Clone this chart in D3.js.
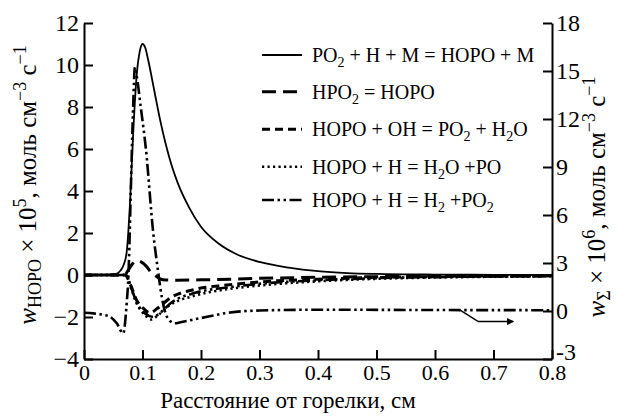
<!DOCTYPE html>
<html>
<head>
<meta charset="utf-8">
<script src="https://cdn.jsdelivr.net/npm/d3@7"></script>
<style>
  body { margin: 0; background: #fff; }
  svg text { font-family: "Liberation Serif", "Times New Roman", serif; fill: #000; }
</style>
</head>
<body>
<div class="chart"></div>
<script>
// ticks
var xTicks = [0, 0.1, 0.2, 0.3, 0.4, 0.5, 0.6, 0.7, 0.8];
var leftTicks = [-4, -2, 0, 2, 4, 6, 8, 10, 12];
var rightTicks = [-3, 0, 3, 6, 9, 12, 15, 18];

// PO2 + H + M = HOPO + M  (left axis)
var rateRecomb = [[0,0],[0.04,0],[0.055,0.05],[0.062,0.2],[0.068,0.5],[0.073,1.1],[0.0786,3.4],
  [0.084,6.7],[0.09,9.5],[0.095,10.6],[0.1,11.0],[0.105,10.8],[0.11,10.2],[0.12,8.8],[0.13,7.4],
  [0.14,6.2],[0.15,5.2],[0.16,4.4],[0.18,3.2],[0.2,2.3],[0.23,1.5],[0.26,1.0],[0.3,0.62],
  [0.35,0.35],[0.4,0.18],[0.45,0.09],[0.5,0.05],[0.6,0.02],[0.7,0.01],[0.8,0]];
// HPO2 = HOPO
var rateIsom = [[0,0],[0.06,0],[0.07,0.02],[0.076,0.25],[0.082,0.5],[0.088,0.66],[0.093,0.68],
  [0.1,0.58],[0.107,0.4],[0.114,0.15],[0.121,0],[0.13,-0.18],[0.14,-0.24],[0.16,-0.25],
  [0.2,-0.23],[0.25,-0.2],[0.3,-0.16],[0.4,-0.11],[0.5,-0.08],[0.6,-0.06],[0.8,-0.04]];
// HOPO + OH = PO2 + H2O
var rateOH = [[0,0],[0.06,0],[0.07,0],[0.08,-0.5],[0.09,-1.2],[0.1,-1.55],[0.113,-1.8],
  [0.125,-1.6],[0.147,-1.1],[0.187,-0.7],[0.244,-0.48],[0.3,-0.33],[0.4,-0.2],[0.5,-0.12],
  [0.6,-0.08],[0.8,-0.04]];
// HOPO + H = H2O + PO
var rateH_H2O = [[0,0],[0.06,0],[0.072,0],[0.08,-0.6],[0.09,-1.35],[0.104,-1.9],[0.115,-2.12],
  [0.125,-1.95],[0.147,-1.43],[0.187,-1.0],[0.244,-0.68],[0.3,-0.5],[0.4,-0.3],[0.5,-0.18],
  [0.6,-0.12],[0.8,-0.06]];
// HOPO + H = H2 + PO2
var rateH_H2 = [[0,0],[0.06,0],[0.072,0],[0.08,-0.55],[0.09,-1.3],[0.105,-1.85],[0.118,-2.0],
  [0.13,-1.8],[0.15,-1.3],[0.19,-0.85],[0.25,-0.58],[0.3,-0.42],[0.4,-0.25],[0.5,-0.15],
  [0.6,-0.1],[0.8,-0.05]];
// total rate w_sum (right axis)
var rateSum = [[0,-0.11],[0.016,-0.15],[0.03,-0.22],[0.044,-0.35],[0.056,-0.77],[0.067,-1.4],
  [0.073,0.5],[0.076,2.25],[0.08,7.5],[0.084,12.75],[0.087,15.24],[0.09,14.72],[0.097,12.75],
  [0.106,10.06],[0.118,5.01],[0.127,2.38],[0.133,0.87],[0.142,-0.38],[0.155,-0.77],
  [0.165,-0.7],[0.2,-0.44],[0.25,-0.09],[0.3,0.03],[0.4,0.08],[0.6,0.06],[0.8,0.05]];

// arrow from the sum curve to the right axis (left-axis units)
var arrowPts = [[0.643,-1.67],[0.674,-2.22],[0.734,-2.22]];

var legendLabels = [
  [["PO"],["2","sub"],[" + H + M = HOPO + M"]],
  [["HPO"],["2","sub"],[" = HOPO"]],
  [["HOPO + OH = PO"],["2","sub"],[" + H"],["2","sub"],["O"]],
  [["HOPO + H = H"],["2","sub"],["O +PO"]],
  [["HOPO + H = H"],["2","sub"],[" +PO"],["2","sub"]]
];

var margin = ({top: 23, right: 66, bottom: 57, left: 84});
var W = 618, H = 416;
var serif = "'Liberation Serif', 'Times New Roman', serif";

var svg = d3.select(".chart").append("svg")
    .attr("width", W)
    .attr("height", H)
    .attr("font-family", serif);

var xScale = d3.scaleLinear().domain([0, 0.8]).range([margin.left, W - margin.right]);
var yLeft = d3.scaleLinear().domain([-4, 12]).range([H - margin.bottom, margin.top]);
var yRight = d3.scaleLinear().domain([-3, 18]).range([H - margin.bottom, margin.top]);

var styles = [
  {w: 1.8, dash: null},
  {w: 3, dash: "14,7"},
  {w: 3, dash: "8,5"},
  {w: 2.6, dash: "2.2,3.3"},
  {w: 2.6, dash: "12,3.5,2.5,3.5,2.5,3.5"}
];

// axes
const xAxis = d3.axisBottom(xScale).tickValues(xTicks).tickSizeInner(-9).tickSizeOuter(0).tickPadding(5)
    .tickFormat(d => d === 0 ? "0" : d3.format(".1f")(d));
const yAxisL = d3.axisLeft(yLeft).tickValues(leftTicks).tickSizeInner(-9).tickSizeOuter(0).tickPadding(5)
    .tickFormat(d => d < 0 ? "\u2212" + Math.abs(d) : d);
const yAxisR = d3.axisRight(yRight).tickValues(rightTicks).tickSizeInner(-9).tickSizeOuter(0).tickPadding(4)
    .tickFormat(d => d < 0 ? "-" + Math.abs(d) : d);

const gx = svg.append("g").attr("transform", `translate(0,${H - margin.bottom})`).call(xAxis);
const gl = svg.append("g").attr("transform", `translate(${margin.left},0)`).call(yAxisL);
const gr = svg.append("g").attr("transform", `translate(${W - margin.right},0)`).call(yAxisR);

[gx, gl, gr].forEach(g => {
  g.attr("font-family", serif);
  g.select(".domain").attr("stroke-width", 2);
  g.selectAll(".tick line").attr("stroke-width", 2);
  g.selectAll("text").attr("fill", "#000");
});
gx.attr("font-size", 22);
gl.attr("font-size", 24);
gr.attr("font-size", 24);
// lift the -3 label a little, as in the original
gr.selectAll(".tick").filter(d => d === -3).select("text").attr("dy", "0.0em");

// curves
const lineL = d3.line().x(d => xScale(d[0])).y(d => yLeft(d[1])).curve(d3.curveMonotoneX);
const lineR = d3.line().x(d => xScale(d[0])).y(d => yRight(d[1])).curve(d3.curveMonotoneX);

const leftSeries = [rateRecomb, rateIsom, rateOH, rateH_H2O, rateH_H2];
leftSeries.forEach((s, i) => {
  svg.append("path")
    .datum(s)
    .attr("fill", "none")
    .attr("stroke", "black")
    .attr("stroke-width", styles[i].w)
    .attr("stroke-dasharray", styles[i].dash)
    .attr("d", lineL);
});

svg.append("path")
  .datum(rateSum)
  .attr("fill", "none")
  .attr("stroke", "black")
  .attr("stroke-width", styles[4].w)
  .attr("stroke-dasharray", styles[4].dash)
  .attr("d", lineR);

// arrow
svg.append("defs").append("marker")
  .attr("id", "head")
  .attr("viewBox", "0 0 10 10")
  .attr("refX", 9).attr("refY", 5)
  .attr("markerWidth", 10).attr("markerHeight", 7)
  .attr("markerUnits", "userSpaceOnUse")
  .attr("orient", "auto")
  .append("path").attr("d", "M0,0L10,5L0,10z").attr("fill", "black");

svg.append("path")
  .datum(arrowPts)
  .attr("fill", "none")
  .attr("stroke", "black")
  .attr("stroke-width", 1.5)
  .attr("marker-end", "url(#head)")
  .attr("d", d3.line().x(d => xScale(d[0])).y(d => yLeft(d[1])));

// legend
const rowY = [55, 91.7, 129.3, 166.7, 200];
const leg = svg.append("g");
legendLabels.forEach((parts, i) => {
  leg.append("line")
    .attr("x1", 262).attr("x2", 302)
    .attr("y1", rowY[i]).attr("y2", rowY[i])
    .attr("stroke", "black")
    .attr("stroke-width", styles[i].w)
    .attr("stroke-dasharray", styles[i].dash);
  const t = leg.append("text")
    .attr("x", 312).attr("y", rowY[i] + 6.8)
    .attr("font-size", 20);
  let shift = 0;
  parts.forEach(p => {
    const ts = t.append("tspan").text(p[0]);
    if (p[1] === "sub") {
      ts.attr("dy", 5 - shift).attr("font-size", 14);
      shift = 5;
    } else if (shift !== 0) {
      ts.attr("dy", -shift);
      shift = 0;
    }
  });
});

// axis titles
svg.append("text")
  .attr("x", 288)
  .attr("y", 408)
  .attr("text-anchor", "middle")
  .attr("font-size", 23)
  .text("Расстояние от горелки, см");

function axisTitle(x, y, sub, pow) {
  const t = svg.append("text")
    .attr("transform", `translate(${x},${y}) rotate(-90)`)
    .attr("text-anchor", "middle")
    .attr("font-size", 25);
  t.append("tspan").text("w").attr("font-style", "italic");
  t.append("tspan").text(sub).attr("dy", 5).attr("font-size", 18);
  t.append("tspan").text(" \u00d7 10").attr("dy", -5);
  t.append("tspan").text(pow).attr("dy", -10).attr("font-size", 18);
  t.append("tspan").text(", моль см").attr("dy", 10);
  t.append("tspan").text("\u22123").attr("dy", -10).attr("font-size", 18);
  t.append("tspan").text(" с").attr("dy", 10);
  t.append("tspan").text("\u22121").attr("dy", -10).attr("font-size", 18);
}
axisTitle(36, 185, "HOPO", "5");
axisTitle(605, 197, "\u03a3", "6");
</script>
</body>
</html>
